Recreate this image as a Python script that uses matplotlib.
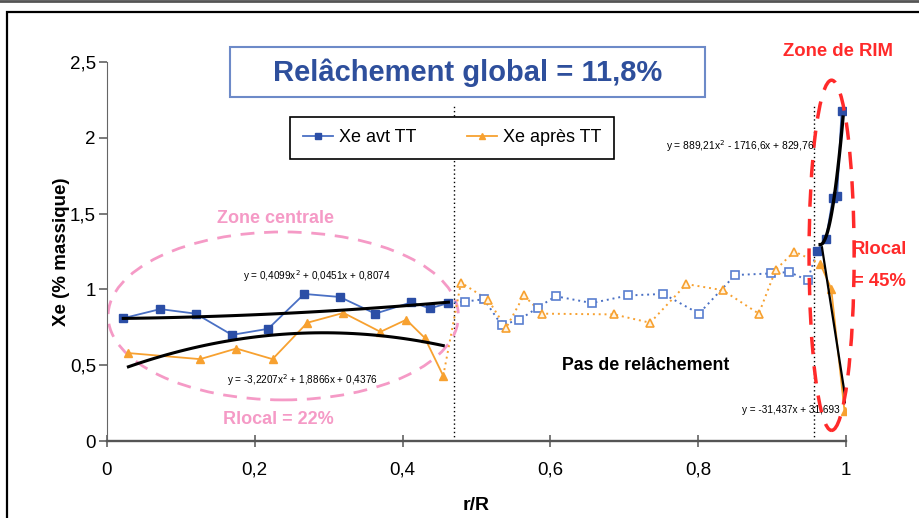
import matplotlib.pyplot as plt
from matplotlib.patches import Ellipse, Rectangle
from matplotlib.ticker import FuncFormatter
import numpy as np

plt.rcParams['font.family'] = ['Liberation Sans', 'DejaVu Sans']

# Xe avant TT (blue) : zone centrale, zone intermediaire, zone de RIM
avt_centre_x = [0.022, 0.072, 0.120, 0.169, 0.218, 0.267, 0.315, 0.363, 0.412, 0.437, 0.462]
avt_centre_y = [0.81, 0.87, 0.84, 0.70, 0.74, 0.97, 0.95, 0.84, 0.915, 0.875, 0.91]
avt_mid_x = [0.485, 0.510, 0.534, 0.558, 0.583, 0.607, 0.656, 0.705, 0.753, 0.801, 0.850, 0.898, 0.923, 0.948]
avt_mid_y = [0.92, 0.935, 0.765, 0.80, 0.88, 0.955, 0.91, 0.96, 0.97, 0.84, 1.095, 1.105, 1.115, 1.06]
avt_rim_x = [0.961, 0.973, 0.982, 0.988, 0.994]
avt_rim_y = [1.255, 1.335, 1.60, 1.615, 2.175]

# Xe apres TT (orange)
apr_centre_x = [0.029, 0.126, 0.175, 0.224, 0.271, 0.320, 0.370, 0.405, 0.430, 0.455]
apr_centre_y = [0.58, 0.54, 0.61, 0.54, 0.78, 0.845, 0.72, 0.80, 0.68, 0.43]
apr_mid_x = [0.479, 0.516, 0.540, 0.564, 0.589, 0.686, 0.735, 0.784, 0.833, 0.882, 0.905, 0.930]
apr_mid_y = [1.045, 0.93, 0.745, 0.96, 0.84, 0.835, 0.78, 1.035, 0.995, 0.84, 1.13, 1.25]
apr_rim_x = [0.965, 0.980, 0.998]
apr_rim_y = [1.17, 1.005, 0.195]

# courbes de tendance (coefficients polynomiaux)
trend_avt_centre = [0.4099, 0.0451, 0.8074]
trend_apr_centre = [-3.2207, 1.8866, 0.4376]
trend_avt_rim = [889.21, -1716.6, 829.76]
trend_apr_rim = [-31.437, 31.693]
trend_labels = ['y = 0,4099x$^2$ + 0,0451x + 0,8074',
                'y = -3,2207x$^2$ + 1,8866x + 0,4376',
                'y = 889,21x$^2$ - 1716,6x + 829,76',
                'y = -31,437x + 31,693']

limite_centre = 0.47
limite_rim = 0.957

blue_line = '#4a70c4'
blue_mark = '#2b4ea6'
orange = '#f7a130'
pink = '#f59ac6'
red = '#ff2a2a'

fig = plt.figure(figsize=(9.2, 5.18), dpi=100)
ax = fig.add_axes([107 / 920, 1 - 441 / 518, 739 / 920, 379 / 518])

# outer frame
fig.add_artist(Rectangle((7 / 920, -0.1), 1.2, 1.1 - 12 / 518, transform=fig.transFigure,
                         fill=False, ec='black', lw=1.6))
fig.add_artist(plt.Line2D([0, 1], [1 - 1 / 518, 1 - 1 / 518], transform=fig.transFigure,
                          color='#555555', lw=2))

dots = (0, (1, 2))

# series avt TT
ax.plot(avt_centre_x, avt_centre_y, color=blue_line, lw=1.3, marker='s', ms=5.5,
        mfc=blue_mark, mec=blue_mark, zorder=3)
ax.plot([avt_centre_x[-1]] + avt_mid_x + [avt_rim_x[0]], [avt_centre_y[-1]] + avt_mid_y + [avt_rim_y[0]],
        color=blue_line, lw=1.4, ls=dots, zorder=2)
ax.plot(avt_mid_x, avt_mid_y, ls='none', marker='s', ms=5.5, mfc='white', mec='#5a7fd0', mew=1.2, zorder=3)
ax.plot(avt_rim_x, avt_rim_y, color=blue_line, lw=1.3, marker='s', ms=5.5,
        mfc=blue_mark, mec=blue_mark, zorder=3)

# series apres TT
ax.plot(apr_centre_x, apr_centre_y, color=orange, lw=1.3, marker='^', ms=5.5,
        mfc=orange, mec=orange, zorder=3)
ax.plot([apr_centre_x[-1]] + apr_mid_x + [apr_rim_x[0]], [apr_centre_y[-1]] + apr_mid_y + [apr_rim_y[0]],
        color=orange, lw=1.4, ls=dots, zorder=2)
ax.plot(apr_mid_x, apr_mid_y, ls='none', marker='^', ms=6, mfc='#fff3e0', mec=orange, mew=1.2, zorder=3)
ax.plot(apr_rim_x, apr_rim_y, color=orange, lw=1.3, marker='^', ms=5.5,
        mfc=orange, mec=orange, zorder=3)

# tendances
xs = np.linspace(avt_centre_x[0], avt_centre_x[-1], 50)
ax.plot(xs, np.polyval(trend_avt_centre, xs), color='black', lw=2.2, zorder=4)
xs = np.linspace(apr_centre_x[0], apr_centre_x[-1], 50)
ax.plot(xs, np.polyval(trend_apr_centre, xs), color='black', lw=2.2, zorder=4)
xs = np.linspace(0.965, 0.996, 50)
ax.plot(xs, np.polyval(trend_avt_rim, xs), color='black', lw=2.4, zorder=4)
xs = np.linspace(0.9675, 1.0, 10)
ax.plot(xs, np.polyval(trend_apr_rim, xs), color='black', lw=1.6, zorder=4)

# limites de zones
for xv in [limite_centre, limite_rim]:
    ax.plot([xv, xv], [0, 2.22], color='black', lw=1, ls=dots, zorder=1)

# ellipses
ax.add_patch(Ellipse((0.2385, 0.825), 0.474, 1.108, fill=False, ec=pink, lw=2,
                     ls=(0, (5, 3.5)), zorder=1))
ax.add_patch(Ellipse((0.9805, 1.225), 0.061, 2.31, fill=False, ec=red, lw=2.5,
                     ls=(0, (5, 3.5)), zorder=5, clip_on=False))

# equations
ax.text(0.284, 1.09, trend_labels[0], fontsize=7.2, ha='center', va='center', zorder=6)
ax.text(0.265, 0.40, trend_labels[1], fontsize=7.2, ha='center', va='center', zorder=6)
ax.text(0.857, 1.945, trend_labels[2], fontsize=7.4, ha='center', va='center', zorder=6)
ax.text(0.925, 0.205, trend_labels[3], fontsize=7.2, ha='center', va='center', zorder=6)

# annotations
ax.text(0.228, 1.47, 'Zone centrale', color=pink, fontsize=13, fontweight='bold', ha='center', va='center')
ax.text(0.232, 0.14, 'Rlocal = 22%', color=pink, fontsize=13, fontweight='bold', ha='center', va='center')
ax.text(0.729, 0.495, 'Pas de relâchement', color='black', fontsize=12.8, fontweight='bold',
        ha='center', va='center')
ax.text(0.989, 2.57, 'Zone de RIM', color=red, fontsize=13.3, fontweight='bold', ha='center', va='center',
        clip_on=False)
ax.text(1.045, 1.26, 'Rlocal', color=red, fontsize=13.3, fontweight='bold', ha='center', va='center',
        clip_on=False)
ax.text(1.045, 1.05, '= 45%', color=red, fontsize=13.3, fontweight='bold', ha='center', va='center',
        clip_on=False)

# titre encadre
fig.add_artist(Rectangle((230 / 920, 1 - 97 / 518), 475 / 920, 50 / 518, transform=fig.transFigure,
                         fill=False, ec='#6d8ac8', lw=1.5))
fig.text(468 / 920, 1 - 73 / 518, 'Relâchement global = 11,8%', color='#2e4f9c', fontsize=21,
         fontweight='bold', ha='center', va='center')

# legende
h1, = ax.plot([], [], color=blue_line, lw=1.3, marker='s', ms=4, mfc=blue_mark, mec=blue_mark)
h2, = ax.plot([], [], color=orange, lw=1.3, marker='^', ms=4, mfc=orange, mec=orange)
leg = ax.legend([h1, h2], ['Xe avt TT', 'Xe après TT'], loc='center', ncol=2,
                bbox_to_anchor=(452 / 920, 1 - 138 / 518), bbox_transform=fig.transFigure,
                fontsize=13, fancybox=False, edgecolor='black', framealpha=1,
                handlelength=1.7, handletextpad=0.3, columnspacing=2.8, borderpad=0.7)
leg.get_frame().set_linewidth(1.2)

ax.set_xlim(0, 1)
ax.set_ylim(0, 2.5)
ax.set_xticks([0, 0.2, 0.4, 0.6, 0.8, 1])
ax.set_yticks([0, 0.5, 1, 1.5, 2, 2.5])
fmt = FuncFormatter(lambda v, p: ('%g' % v).replace('.', ','))
ax.xaxis.set_major_formatter(fmt)
ax.yaxis.set_major_formatter(fmt)
ax.tick_params(axis='x', direction='inout', length=8, width=1.1, color='#555555', labelsize=13.5, pad=11)
ax.tick_params(axis='y', direction='out', length=6, width=1.1, color='#555555', labelsize=13.5, pad=2)
for s in ['top', 'right']:
    ax.spines[s].set_visible(False)
ax.spines['left'].set_color('#666666')
ax.spines['bottom'].set_color('#555555')
ax.spines['bottom'].set_linewidth(1.7)
ax.set_xlabel('r/R', fontsize=14, fontweight='bold', labelpad=13)
ax.set_ylabel('Xe (% massique)', fontsize=13.5, fontweight='bold', labelpad=0)

fig.savefig('out.png', dpi=100)
